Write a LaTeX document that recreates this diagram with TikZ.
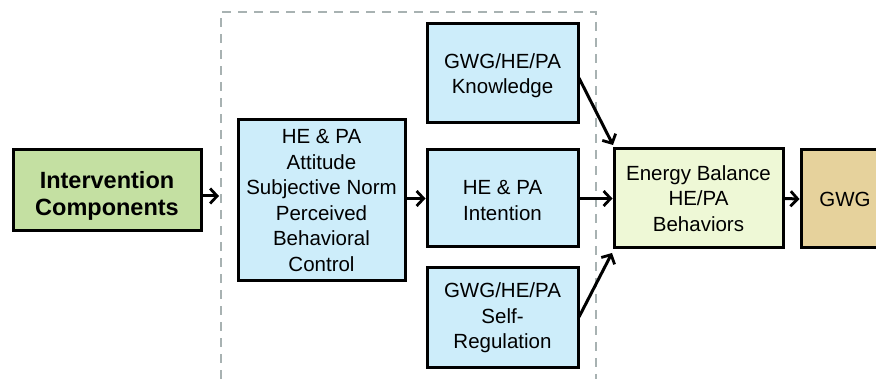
\documentclass[tikz,border=0pt]{standalone}
\usepackage{fontspec}
\setmainfont{Liberation Sans}
\usetikzlibrary{arrows.meta}
\definecolor{cblue}{HTML}{CDEDFA}
\definecolor{cgreen}{HTML}{C4E0A2}
\definecolor{cpale}{HTML}{EEF8D6}
\definecolor{ctan}{HTML}{E6D29C}
\definecolor{cdash}{HTML}{A8B2B2}
\begin{document}
\begin{tikzpicture}[x=1pt,y=-1pt,
  box/.style={draw=black,line width=3pt,inner sep=0pt,align=center,
    font=\fontsize{20.5}{25.5}\selectfont},
  conn/.style={line width=3pt,-{Straight Barb[length=7pt,width=15pt,line width=2.8pt]}}]
\useasboundingbox (0,0) rectangle (876,379);
\draw[cdash,line width=1.6pt,dash pattern=on 9pt off 7pt] (221,379) -- (221,12) -- (596,12) -- (596,379);
\node[box,fill=cgreen,minimum width=188pt,minimum height=81pt,
  font=\fontsize{23.5}{27}\selectfont\bfseries] (iv) at (107,190.5) {\rule{0pt}{27pt}Intervention\\Components};
\node[box,fill=cblue,minimum width=167pt,minimum height=161pt] (att) at (321.5,200.5)
  {HE \& PA\\Attitude\\Subjective Norm\\Perceived\\Behavioral\\Control};
\node[box,fill=cblue,minimum width=151pt,minimum height=99pt] (kn) at (502.5,73.5) {\rule{0pt}{19pt}GWG/HE/PA\\Knowledge};
\node[box,fill=cblue,minimum width=151pt,minimum height=97pt] (int) at (502.5,198.5) {\rule{0pt}{18pt}HE \& PA\\Intention};
\node[box,fill=cblue,minimum width=151pt,minimum height=100pt] (sr) at (502.5,318) {GWG/HE/PA\\Self-\\Regulation};
\node[box,fill=cpale,minimum width=169pt,minimum height=99pt] (eb) at (698.5,198.5) {Energy Balance\\HE/PA\\Behaviors};
\node[box,fill=ctan,minimum width=88pt,minimum height=98pt] (gwg) at (845,199) {GWG};
\coordinate (ivend) at (219,196);
\coordinate (kstart) at (579,78);
\coordinate (kend) at (613,145);
\coordinate (sstart) at (579,317);
\coordinate (send) at (612,253);
\draw[conn] (iv.east |- ivend) -- (ivend);
\draw[conn] (att.east |- int.west) -- (int.west);
\draw[conn] (int.east) -- (eb.west);
\draw[conn] (kstart) -- (kend);
\draw[conn] (sstart) -- (send);
\draw[conn] (eb.east) -- (gwg.west);
\end{tikzpicture}
\end{document}
